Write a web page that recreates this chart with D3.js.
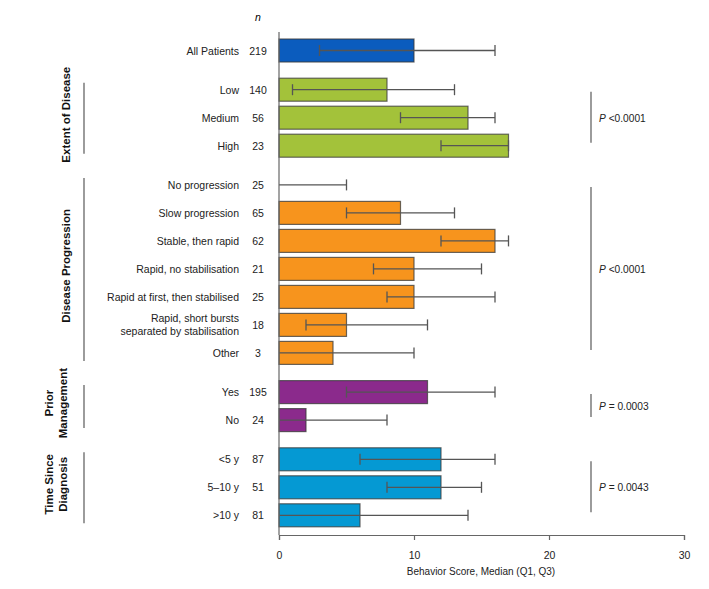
<!DOCTYPE html>
<html><head><meta charset="utf-8">
<script src="https://cdn.jsdelivr.net/npm/d3@7"></script>
<style>body{margin:0;background:#fff}svg{display:block;font-family:"Liberation Sans",Arial,sans-serif}</style>
</head><body><svg id="c" width="709" height="589"></svg>
<script>
const categories = ["All Patients","Low","Medium","High","No progression","Slow progression","Stable, then rapid","Rapid, no stabilisation","Rapid at first, then stabilised","Rapid, short bursts\nseparated by stabilisation","Other","Yes","No","<5 y","5\u201310 y",">10 y"];
const nValues = [219,140,56,23,25,65,62,21,25,18,3,195,24,87,51,81];
const medians = [10,8,14,17,0,9,16,10,10,5,4,11,2,12,12,6];
const q1Values = [3,1,9,12,0,5,12,7,8,2,0,5,0,6,8,0];
const q3Values = [16,13,16,17,5,13,17,15,16,11,10,16,8,16,15,14];
const groupOfRow = [0,1,1,1,2,2,2,2,2,2,2,3,3,4,4,4];
const groupNames = [null,["Extent of Disease"],["Disease Progression"],["Prior","Management"],["Time Since","Diagnosis"]];
const groupColors = ["#0b5cbe","#a3c23a","#f7941d","#8b2a8c","#0599d3"];
const pValues = [null,"<0.0001","<0.0001","= 0.0003","= 0.0043"];
const xTicks = [0,10,20,30];

const svg = d3.select("#c");
const x = d3.scaleLinear().domain([0,30]).range([279,684]);
const pos = []; let p = 0;
categories.forEach((c,i)=>{ if(i>0 && groupOfRow[i]!==groupOfRow[i-1]) p += 0.4; pos.push(p); p += 1; });
const y = d3.scaleLinear().domain([0,16.6]).range([50.5,515.3]);
const barH = 23;

categories.forEach((c,i)=>{
  const cy = y(pos[i]);
  if (medians[i] > 0) {
    svg.append("rect").attr("x",x(0)).attr("y",cy-barH/2).attr("width",x(medians[i])-x(0)).attr("height",barH)
      .attr("fill",groupColors[groupOfRow[i]]).attr("stroke","#3a3a3a").attr("stroke-opacity",0.75).attr("stroke-width",1.2);
  }
  svg.append("line").attr("x1",x(q1Values[i])).attr("x2",x(q3Values[i])).attr("y1",cy).attr("y2",cy)
    .attr("stroke","#555").attr("stroke-width",1.3);
  [q1Values[i],q3Values[i]].forEach(v=>{
    if (v>0) svg.append("line").attr("x1",x(v)).attr("x2",x(v)).attr("y1",cy-5.5).attr("y2",cy+5.5)
      .attr("stroke","#555").attr("stroke-width",1.3);
  });
  const lines = c.split("\n");
  const t = svg.append("text").attr("x",239).attr("text-anchor","end").attr("font-size",10.5).attr("fill","#222");
  lines.forEach((ln,k)=>{
    t.append("tspan").attr("x",239).attr("y",cy + 4 + (k-(lines.length-1)/2)*13).text(ln);
  });
  svg.append("text").attr("x",258).attr("y",cy+4).attr("text-anchor","middle").attr("font-size",10.5).attr("fill","#222").text(nValues[i]);
});

svg.append("text").attr("x",258).attr("y",21).attr("text-anchor","middle").attr("font-size",10.5).attr("font-style","italic").text("n");

svg.append("line").attr("x1",x(0)).attr("x2",x(0)).attr("y1",32).attr("y2",535).attr("stroke","#666").attr("stroke-width",1.2);

const xAxis = svg.append("g").attr("transform","translate(0,535)")
  .call(d3.axisBottom(x).tickValues(xTicks).tickSize(5).tickPadding(12));
xAxis.select(".domain").attr("stroke","#666").attr("stroke-width",1.2);
xAxis.selectAll(".tick line").attr("stroke","#666").attr("stroke-width",1.2);
xAxis.selectAll("text").attr("font-size",10.5).attr("font-family","Liberation Sans, Arial, sans-serif").attr("fill","#222");
svg.append("text").attr("x",481).attr("y",575).attr("text-anchor","middle").attr("font-size",10).attr("fill","#222").text("Behavior Score, Median (Q1, Q3)");

for (let g=1; g<=4; g++) {
  const idx = groupOfRow.map((v,i)=>v===g?i:-1).filter(i=>i>=0);
  const c0 = y(pos[idx[0]]), c1 = y(pos[idx[idx.length-1]]);
  const mid = (c0 + c1)/2;
  svg.append("line").attr("x1",84).attr("x2",84).attr("y1",c0-7).attr("y2",c1+8).attr("stroke","#666").attr("stroke-width",1.3);
  const nm = groupNames[g];
  nm.forEach((ln,k)=>{
    const gx = nm.length===1 ? 70 : 53 + k*14;
    svg.append("text").attr("transform",`translate(${gx},${mid-3}) rotate(-90)`).attr("text-anchor","middle")
      .attr("font-size",11.5).attr("font-weight","bold").attr("fill","#111").text(ln);
  });
  svg.append("line").attr("x1",591).attr("x2",591).attr("y1",c0+2).attr("y2",c1-3).attr("stroke","#666").attr("stroke-width",1.3);
  const pt = svg.append("text").attr("x",599).attr("y",mid+4).attr("font-size",10.2).attr("fill","#222");
  pt.append("tspan").attr("font-style","italic").text("P");
  pt.append("tspan").text(" " + pValues[g]);
}
</script></body></html>
